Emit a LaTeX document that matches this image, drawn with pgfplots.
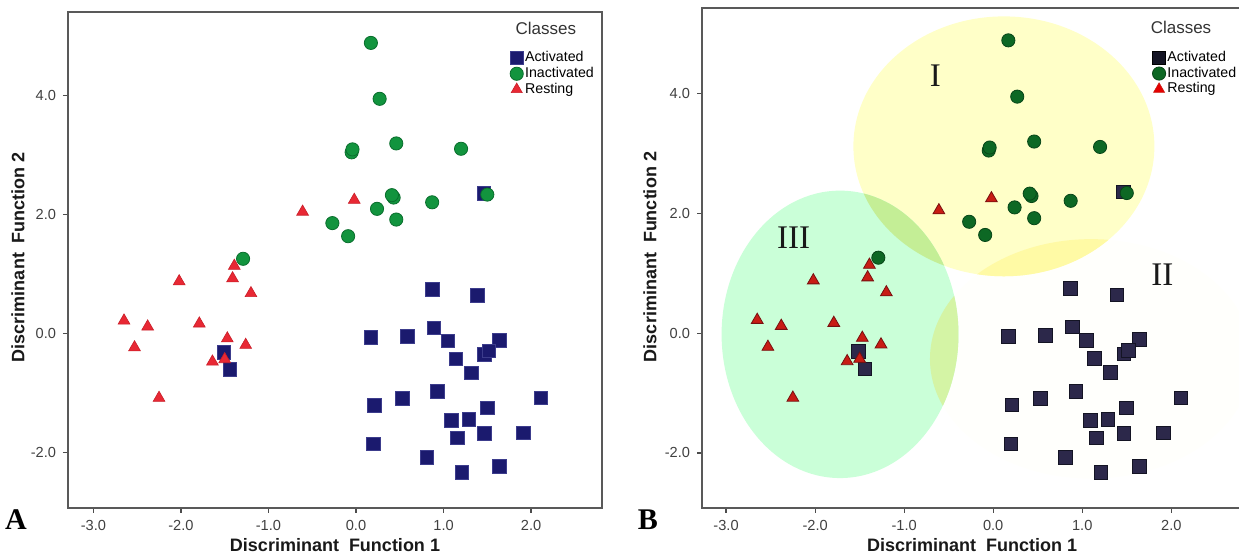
\documentclass[border=0pt]{standalone}
\usepackage{fontspec}
\setmainfont{Liberation Sans}
\newfontfamily\timesfont{Liberation Serif}
\usepackage{pgfplots}
\usepackage{pgfplotstable}
\pgfplotsset{compat=1.18}

\definecolor{navyA}{RGB}{27,26,110}
\definecolor{navyAe}{RGB}{60,60,140}
\definecolor{greenA}{RGB}{18,148,62}
\definecolor{greenAe}{RGB}{10,110,45}
\definecolor{redA}{RGB}{232,40,52}
\definecolor{redAe}{RGB}{200,30,40}
\definecolor{navyB}{RGB}{44,40,74}
\definecolor{navyBe}{RGB}{20,20,36}
\definecolor{greenB}{RGB}{13,104,36}
\definecolor{greenBe}{RGB}{8,70,24}
\definecolor{redB}{RGB}{200,28,20}
\definecolor{redBe}{RGB}{120,16,16}
\definecolor{ellI}{RGB}{255,255,200}
\definecolor{ellII}{RGB}{255,255,252}
\definecolor{ellIII}{RGB}{202,255,216}
\definecolor{ovIIII}{RGB}{196,238,150}
\definecolor{ovIII}{RGB}{255,250,165}
\definecolor{ovIIIII}{RGB}{212,244,165}

\pgfplotstableread{
x y
1.46 2.36
0.87 0.75
1.39 0.64
0.17 -0.06
0.59 -0.04
0.89 0.10
1.05 -0.12
1.64 -0.11
1.14 -0.42
1.47 -0.35
1.52 -0.29
1.32 -0.66
0.93 -0.97
0.53 -1.09
0.21 -1.20
2.11 -1.08
1.50 -1.25
1.09 -1.46
1.29 -1.44
1.16 -1.75
1.47 -1.68
1.91 -1.67
0.20 -1.85
0.81 -2.08
1.21 -2.33
1.64 -2.23
-1.51 -0.31
-1.44 -0.60
}\activated

\pgfplotstableread{
x y
0.17 4.89
0.27 3.95
-0.05 3.05
-0.04 3.10
0.46 3.20
1.20 3.11
0.43 2.29
0.41 2.33
0.24 2.10
0.46 1.92
0.87 2.21
-0.27 1.86
-0.09 1.64
1.50 2.34
-1.29 1.26
}\inactivated

\pgfplotstableread{
x y
-0.02 2.25
-0.61 2.05
-2.02 0.88
-1.39 1.14
-1.41 0.93
-1.20 0.68
-2.65 0.22
-2.38 0.12
-1.79 0.17
-2.53 -0.23
-1.47 -0.08
-1.26 -0.19
-1.64 -0.47
-1.50 -0.43
-2.25 -1.08
}\resting

\pgfplotsset{
  dfa/.style={
    scale only axis,
    anchor=south west,
    tick align=outside,
    xtick pos=bottom, ytick pos=left,
    major tick length=2.5pt,
    tick style={black!70, line width=0.6pt},
    axis line style={black!65, line width=0.7pt},
    xtick={-3,-2,-1,0,1,2},
    xticklabels={-3.0,-2.0,-1.0,0.0,1.0,2.0},
    ytick={-2,0,2,4},
    yticklabels={-2.0,0.0,2.0,4.0},
    ticklabel style={font=\fontsize{7.3}{8}\selectfont, text=black!75},
    label style={font=\bfseries\fontsize{9}{10}\selectfont, text=black!90},
    xlabel={Discriminant\ \ Function 1},
    ylabel={Discriminant\ \ Function 2},
    legend cell align=left,
    legend image code/.code={\draw[##1] plot coordinates {(0pt,0pt)};},
    legend style={draw=none, fill=none, anchor=north west,
      font=\fontsize{7.1}{8}\selectfont, row sep=-0.6pt,
      nodes={inner sep=0.9pt}},
  }
}

\begin{document}
\begin{tikzpicture}
\path[use as bounding box] (0,0) rectangle (619.5pt,278pt);

% ---------------- Panel A ----------------
\begin{axis}[dfa,
  at={(34pt,24pt)}, width=267pt, height=248pt,
  xmin=-3.29, xmax=2.81, ymin=-2.93, ymax=5.41,
  xlabel style={at={(axis description cs:0.5,-0.0746)}, anchor=center},
  ylabel style={at={(axis description cs:-0.0936,0.506)}, anchor=center},
  legend style={at={(rel axis cs:0.816,0.933)}},
]
\addlegendimage{only marks, mark=square*, mark size=3.3pt, mark options={fill=navyA, draw=navyAe, line width=0.4pt}}
\addlegendentry{Activated}
\addlegendimage{only marks, mark=*, mark size=3.3pt, mark options={fill=greenA, draw=greenAe, line width=0.4pt}}
\addlegendentry{Inactivated}
\addlegendimage{only marks, mark=triangle*, mark size=3.2pt, mark options={fill=redA, draw=redAe, line width=0.3pt}}
\addlegendentry{Resting}
\addplot[forget plot, only marks, mark=square*, mark size=3.4pt, mark options={fill=navyA, draw=navyAe, line width=0.4pt}] table {\activated};
\addplot[forget plot, only marks, mark=triangle*, mark size=3.4pt, mark options={fill=redA, draw=redAe, line width=0.3pt}] table {\resting};
\addplot[forget plot, only marks, mark=*, mark size=3.3pt, mark options={fill=greenA, draw=greenAe, line width=0.4pt}] table {\inactivated};
\node[font=\fontsize{8.5}{9}\selectfont, text=black!80] at (rel axis cs:0.895,0.966) {Classes};
\end{axis}

% ---------------- Panel B ----------------
\begin{axis}[dfa, name=B,
  at={(351pt,24pt)}, width=268.5pt, height=250pt,
  xmin=-3.27, xmax=2.76, ymin=-2.92, ymax=5.43,
  axis line style={draw=none},
  xlabel style={at={(axis description cs:0.503,-0.074)}, anchor=center},
  ylabel style={at={(axis description cs:-0.0968,0.502)}, anchor=center},
  legend style={at={(rel axis cs:0.827,0.926)}},
]
% region ellipses
\fill[ellII] (axis cs:1.10,-0.43) ellipse [x radius=1.81, y radius=2.0];
\fill[ellI] (axis cs:0.12,3.12) ellipse [x radius=1.69, y radius=2.17];
\fill[ellIII] (axis cs:-1.72,-0.02) ellipse [x radius=1.33, y radius=2.40];
\begin{scope}
  \clip (axis cs:0.12,3.12) ellipse [x radius=1.69, y radius=2.17];
  \fill[ovIIII] (axis cs:-1.72,-0.02) ellipse [x radius=1.33, y radius=2.40];
\end{scope}
\begin{scope}
  \clip (axis cs:1.10,-0.43) ellipse [x radius=1.81, y radius=2.0];
  \fill[ovIII] (axis cs:0.12,3.12) ellipse [x radius=1.69, y radius=2.17];
\end{scope}
\begin{scope}
  \clip (axis cs:1.10,-0.43) ellipse [x radius=1.81, y radius=2.0];
  \fill[ovIIIII] (axis cs:-1.72,-0.02) ellipse [x radius=1.33, y radius=2.40];
\end{scope}
\addlegendimage{only marks, mark=square*, mark size=3.3pt, mark options={fill=navyBe, draw=black, line width=0.4pt}}
\addlegendentry{Activated}
\addlegendimage{only marks, mark=*, mark size=3.3pt, mark options={fill=greenB, draw=greenBe, line width=0.4pt}}
\addlegendentry{Inactivated}
\addlegendimage{only marks, mark=triangle*, mark size=3.2pt, mark options={fill=red!90!black, draw=redB, line width=0.3pt}}
\addlegendentry{Resting}
\addplot[forget plot, only marks, mark=square*, mark size=3.4pt, mark options={fill=navyB, draw=navyBe, line width=0.5pt}] table {\activated};
\addplot[forget plot, only marks, mark=triangle*, mark size=3.4pt, mark options={fill=redB, draw=redBe, line width=0.4pt}] table {\resting};
\addplot[forget plot, only marks, mark=*, mark size=3.3pt, mark options={fill=greenB, draw=greenBe, line width=0.4pt}] table {\inactivated};
\node[font=\timesfont\fontsize{16.5}{17}\selectfont, text=black!90] at (axis cs:-0.65,4.30) {I};
\node[font=\timesfont\fontsize{16.5}{17}\selectfont, text=black!90] at (axis cs:1.90,0.98) {II};
\node[font=\timesfont\fontsize{16.5}{17}\selectfont, text=black!90] at (axis cs:-2.24,1.60) {III};
\node[font=\fontsize{8.5}{9}\selectfont, text=black!80] at (rel axis cs:0.892,0.962) {Classes};
\end{axis}
\draw[black!65, line width=0.7pt] (B.north east) -- (B.north west) -- (B.south west) -- (B.south east);

\node[font=\timesfont\bfseries\fontsize{15}{16}\selectfont] at (8pt,18pt) {A};
\node[font=\timesfont\bfseries\fontsize{15}{16}\selectfont] at (324pt,18pt) {B};
\end{tikzpicture}
\end{document}
